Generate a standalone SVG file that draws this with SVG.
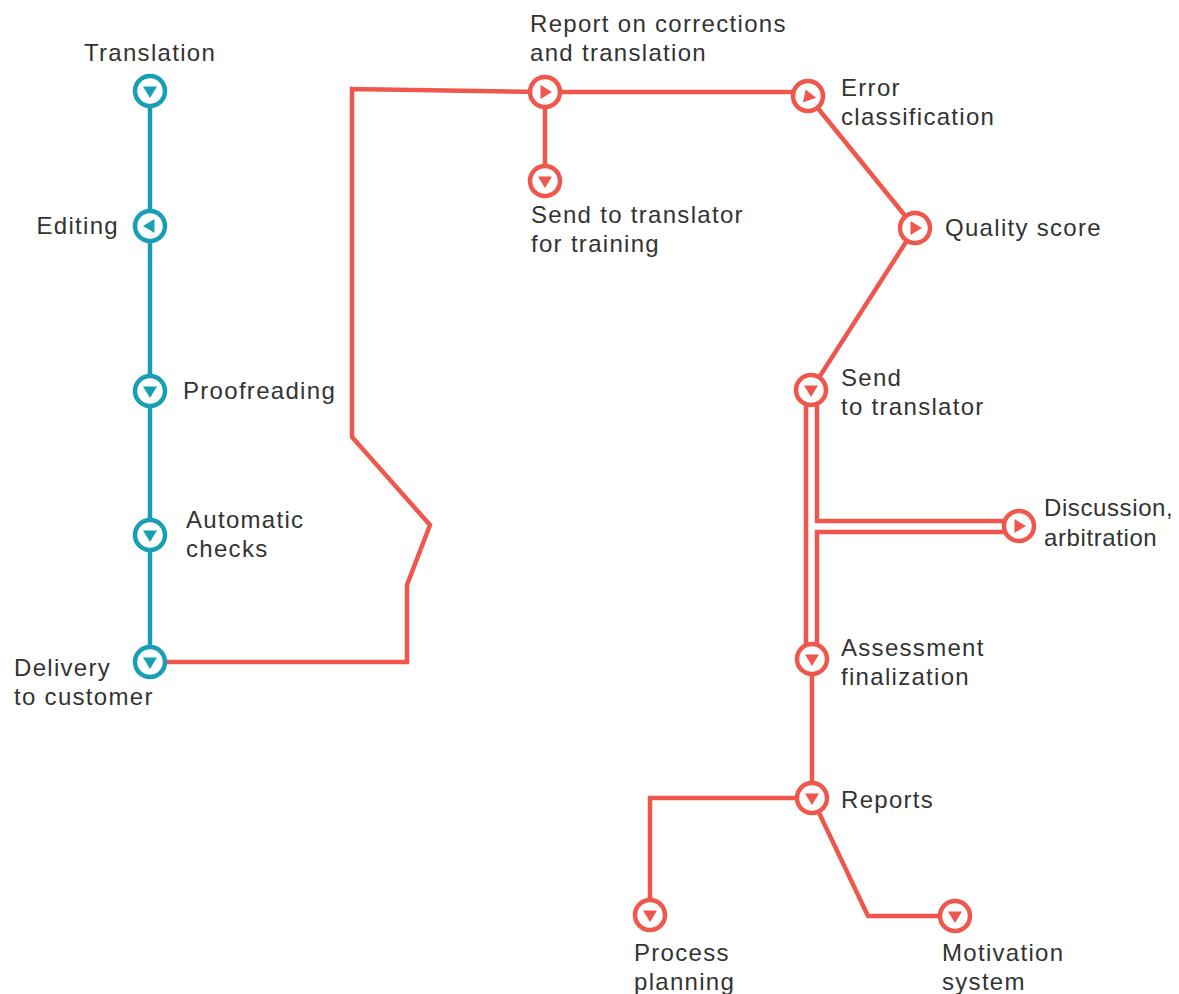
<svg xmlns="http://www.w3.org/2000/svg" width="1179" height="994" viewBox="0 0 1179 994">
<defs>
<style>
.t{font-family:"Liberation Sans",Arial,sans-serif;font-size:24px;fill:#333;letter-spacing:1.3px}
.n{letter-spacing:0.6px}
.lr{fill:none;stroke:#f0574c;stroke-width:4.5;stroke-linejoin:miter}
.lt{fill:none;stroke:#189fb6;stroke-width:4.5}
.cr{fill:#fff;stroke:#f0574c;stroke-width:4.5}
.ct{fill:#fff;stroke:#189fb6;stroke-width:4.5}
.ar{fill:#f0574c}
.at{fill:#189fb6}
</style>
<path id="tri" d="M-7,-4.5 L7,-4.5 L0,7 Z"/>
</defs>
<rect width="1179" height="994" fill="#fff"/>
<g id="connectors">
<path class="lt" d="M150,91 V662"/>
<path class="lr" d="M150,662 H407 V585 L430,525 L352,437 V89 L545,92"/>
<path class="lr" d="M545,92 H808"/>
<path class="lr" d="M545,92 V181"/>
<path class="lr" d="M808,96 L915,228 L811,390"/>
<path class="lr" d="M806,390 V659"/>
<path class="lr" d="M817,390 V521 H1019"/>
<path class="lr" d="M1019,532 H817 V659"/>
<path class="lr" d="M812,659 V798"/>
<path class="lr" d="M812,798 H650 V915"/>
<path class="lr" d="M812,798 L868,916 H955"/>
</g>
<g id="n-translation"><circle class="ct" cx="150" cy="91" r="15"/><use href="#tri" class="at" transform="translate(150,91)"/><text class="t" x="150" y="61" text-anchor="middle">Translation</text></g>
<g id="n-editing"><circle class="ct" cx="150" cy="226" r="15"/><use href="#tri" class="at" transform="translate(150,226) rotate(90)"/><text class="t" x="119" y="234" text-anchor="end">Editing</text></g>
<g id="n-proofreading"><circle class="ct" cx="150" cy="391" r="15"/><use href="#tri" class="at" transform="translate(150,391)"/><text class="t" x="183" y="399">Proofreading</text></g>
<g id="n-checks"><circle class="ct" cx="150" cy="535" r="15"/><use href="#tri" class="at" transform="translate(150,535)"/><text class="t" x="186" y="528">Automatic</text><text class="t" x="186" y="557">checks</text></g>
<g id="n-delivery"><circle class="ct" cx="150" cy="662" r="15"/><use href="#tri" class="at" transform="translate(150,662)"/><text class="t" x="14" y="676">Delivery</text><text class="t" x="14" y="705">to customer</text></g>
<g id="n-report"><circle class="cr" cx="545" cy="92" r="15"/><use href="#tri" class="ar" transform="translate(545,92) rotate(-90)"/><text class="t" x="530" y="32">Report on corrections</text><text class="t" x="530" y="61">and translation</text></g>
<g id="n-training"><circle class="cr" cx="545" cy="181" r="15"/><use href="#tri" class="ar" transform="translate(545,181)"/><text class="t" x="531" y="223">Send to translator</text><text class="t" x="531" y="252">for training</text></g>
<g id="n-error"><circle class="cr" cx="808" cy="96" r="15"/><use href="#tri" class="ar" transform="translate(808,96) rotate(160)"/><text class="t" x="841" y="96">Error</text><text class="t" x="841" y="125">classification</text></g>
<g id="n-quality"><circle class="cr" cx="915" cy="228" r="15"/><use href="#tri" class="ar" transform="translate(915,228) rotate(-90)"/><text class="t" x="945" y="236">Quality score</text></g>
<g id="n-send"><circle class="cr" cx="811" cy="390" r="15"/><use href="#tri" class="ar" transform="translate(811,390)"/><text class="t" x="841" y="386">Send</text><text class="t" x="841" y="415">to translator</text></g>
<g id="n-discussion"><circle class="cr" cx="1019" cy="526" r="15"/><use href="#tri" class="ar" transform="translate(1019,526) rotate(-90)"/><text class="t n" x="1044" y="516">Discussion,</text><text class="t n" x="1044" y="546">arbitration</text></g>
<g id="n-assessment"><circle class="cr" cx="812" cy="659" r="15"/><use href="#tri" class="ar" transform="translate(812,659)"/><text class="t" x="841" y="656">Assessment</text><text class="t" x="841" y="685">finalization</text></g>
<g id="n-reports"><circle class="cr" cx="812" cy="798" r="15"/><use href="#tri" class="ar" transform="translate(812,798)"/><text class="t" x="841" y="808">Reports</text></g>
<g id="n-planning"><circle class="cr" cx="650" cy="915" r="15"/><use href="#tri" class="ar" transform="translate(650,915)"/><text class="t" x="634" y="961">Process</text><text class="t" x="634" y="990">planning</text></g>
<g id="n-motivation"><circle class="cr" cx="955" cy="916" r="15"/><use href="#tri" class="ar" transform="translate(955,916)"/><text class="t" x="942" y="961">Motivation</text><text class="t" x="942" y="990">system</text></g>
</svg>
